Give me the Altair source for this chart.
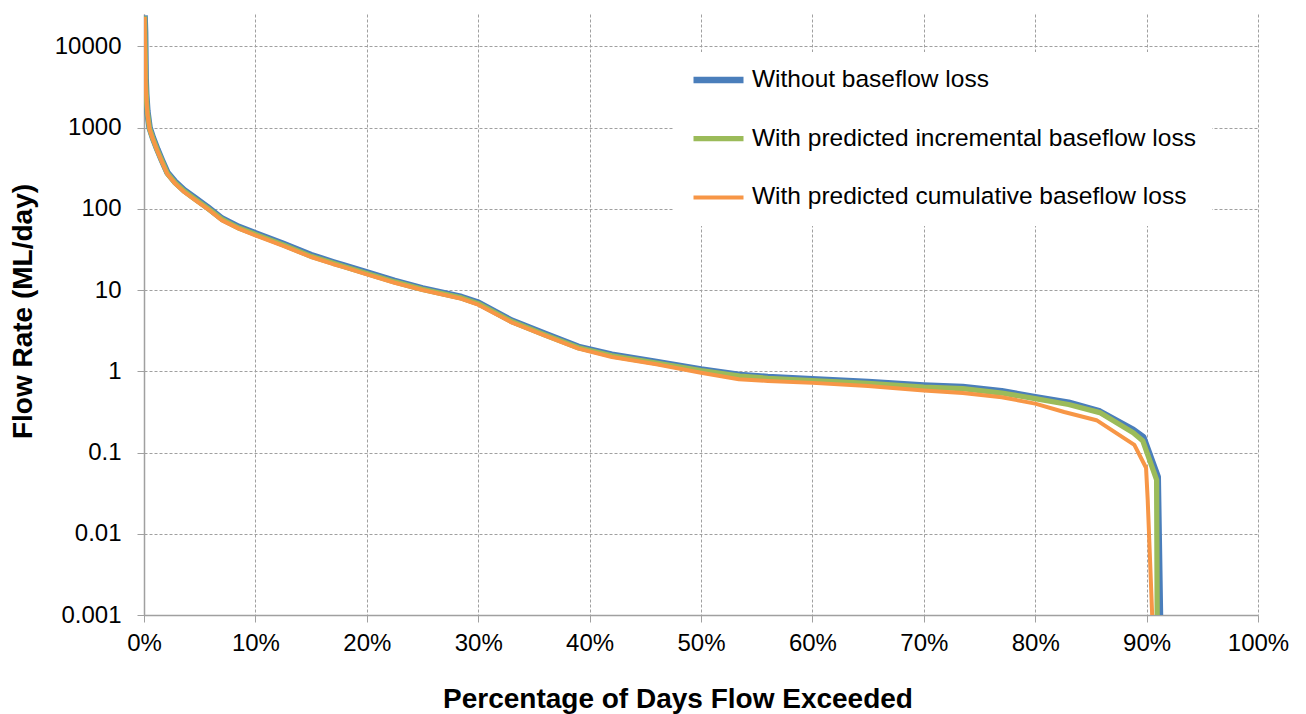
import altair as alt
import pandas as pd

series_names = [
    "Without baseflow loss",
    "With predicted incremental baseflow loss",
    "With predicted cumulative baseflow loss",
]
series_colors = ["#4A7EBB", "#9BBB59", "#F79646"]
series_widths = [6.5, 4, 4]

pct_blue = [0.05, 0.1, 0.15, 0.2, 0.3, 0.5, 0.8, 1.2, 1.6, 2.1, 2.8, 3.6, 4.6, 5.7, 7.0, 8.5,
            10, 12.5, 15, 17, 18, 20, 22.5, 25, 28.5, 30, 33, 36, 39, 42, 46, 50, 53.5, 56,
            60, 65, 70, 73.5, 77, 80, 83, 85.8, 88.8, 89.7, 91.0, 91.2]
flow_blue = [24000, 15000, 4000, 2600, 1600, 1000, 750, 540, 400, 280, 215, 170, 135, 105, 76, 60,
             50, 37, 27, 22, 20, 16.5, 13, 10.5, 8.2, 7.0, 4.2, 2.9, 2.0, 1.6, 1.3, 1.05, 0.90, 0.85,
             0.80, 0.74, 0.67, 0.64, 0.57, 0.48, 0.41, 0.32, 0.19, 0.155, 0.05, 0.001]

pct_green = [0.05, 0.15, 0.2, 0.3, 0.5, 0.8, 1.2, 1.6, 2.1, 2.8, 3.6, 4.6, 5.7, 7.0, 8.5,
             10, 12.5, 15, 17, 18, 20, 22.5, 25, 28.5, 30, 33, 36, 39, 42, 46, 50, 53.5, 56,
             60, 65, 70, 73.5, 77, 80, 83, 85.8, 88.8, 89.65, 90.9, 90.95]
flow_green = [23500, 3800, 2500, 1550, 970, 730, 525, 390, 272, 208, 165, 131, 102, 74, 58,
              48.5, 36, 26, 21.3, 19.4, 16, 12.6, 10.2, 8.0, 6.8, 4.1, 2.8, 1.95, 1.55, 1.26, 1.02, 0.87, 0.82,
              0.77, 0.71, 0.64, 0.61, 0.54, 0.46, 0.39, 0.31, 0.175, 0.14, 0.046, 0.001]

pct_orange = [0.05, 0.15, 0.2, 0.3, 0.5, 0.8, 1.2, 1.6, 2.1, 2.8, 3.6, 4.6, 5.7, 7.0, 8.5,
              10, 12.5, 15, 17, 18, 20, 22.5, 25, 28.5, 30, 33, 36, 39, 42, 46, 50, 53.4, 56,
              60, 65, 70, 73.5, 77, 80, 82.6, 85.5, 88.9, 89.95, 90.1, 90.5]
flow_orange = [23000, 3700, 2450, 1500, 950, 715, 515, 380, 266, 204, 161, 128, 100, 72, 57,
               47, 35, 25.5, 20.8, 19, 15.6, 12.3, 10, 7.8, 6.6, 4.0, 2.75, 1.9, 1.5, 1.22, 0.96, 0.80, 0.76,
               0.72, 0.66, 0.58, 0.54, 0.48, 0.40, 0.315, 0.25, 0.124, 0.065, 0.026, 0.001]

y_ticks = [0.001, 0.01, 0.1, 1, 10, 100, 1000, 10000]
x_ticks = [0, 10, 20, 30, 40, 50, 60, 70, 80, 90, 100]

rows = []
for name, xs, ys in zip(series_names, [pct_blue, pct_green, pct_orange],
                        [flow_blue, flow_green, flow_orange]):
    for xv, yv in zip(xs, ys):
        rows.append({"series": name, "pct": xv, "flow": yv})
df = pd.DataFrame(rows)

legend = alt.Legend(
    title=None,
    orient="none",
    legendX=530,
    legendY=38,
    padding=16,
    fillColor="white",
    symbolType="stroke",
    symbolSize=2500,
    clipHeight=24,
    rowPadding=33.7,
    labelOffset=5,
    labelFont="Liberation Sans",
    labelFontSize=24.5,
    labelColor="black",
    labelLimit=700,
)

chart = alt.Chart(df).mark_line(clip=True, strokeJoin="round").encode(
    x=alt.X(
        "pct:Q",
        scale=alt.Scale(domain=[0, 100], nice=False),
        axis=alt.Axis(
            values=x_ticks,
            labelExpr="datum.value + '%'",
            labelFlush=False,
            title="Percentage of Days Flow Exceeded",
            titleX=533.5,
            titleY=92,
            titleAlign="center",
            titleBaseline="alphabetic",
            labelPadding=9,
        ),
    ),
    y=alt.Y(
        "flow:Q",
        scale=alt.Scale(type="log", domain=[0.001, 25000], nice=False),
        axis=alt.Axis(
            values=y_ticks,
            format="~g",
            labelFlush=False,
            title="Flow Rate (ML/day)",
            titleX=-113,
            titleY=297,
            titleAngle=270,
            titleAlign="center",
            titleBaseline="alphabetic",
            labelPadding=16,
        ),
    ),
    color=alt.Color("series:N", scale=alt.Scale(domain=series_names, range=series_colors), legend=legend),
    strokeWidth=alt.StrokeWidth("series:N", scale=alt.Scale(domain=series_names, range=series_widths), legend=legend),
    order=alt.Order("pct:Q"),
).properties(
    width=1114,
    height=601,
    autosize=alt.AutoSizeParams(type="none"),
    padding={"left": 136, "top": 6, "right": 40, "bottom": 100},
).configure_axis(
    labelFont="Liberation Sans",
    labelFontSize=24,
    labelColor="black",
    titleFont="Liberation Sans",
    titleFontSize=28,
    titleFontWeight="bold",
    titleColor="black",
    gridColor="#a0a0a0",
    gridDash=[3, 2],
    gridWidth=1,
    domainColor="#a0a0a0",
    domainWidth=1.5,
    tickColor="#a0a0a0",
    tickSize=7,
).configure_view(stroke=None)

chart.save("out.html", embed_options={"renderer": "svg", "actions": False})
